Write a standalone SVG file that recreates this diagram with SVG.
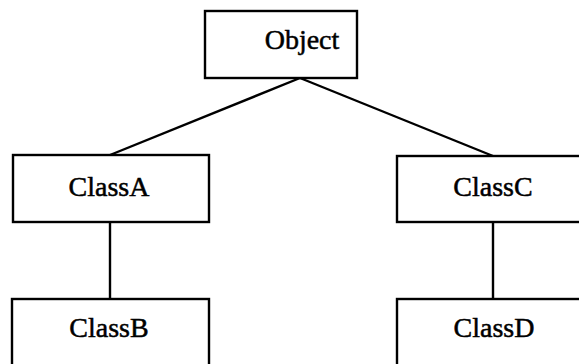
<svg xmlns="http://www.w3.org/2000/svg" width="579" height="364" viewBox="0 0 579 364">
<style>
.box{fill:#fff;stroke:#000;stroke-width:2.4}
.lbl{font-family:"Liberation Serif","Times New Roman",serif;font-size:28px;fill:#000;stroke:#000;stroke-width:0.5;text-anchor:middle}
.conn{stroke:#000;stroke-width:2.4;fill:none}
</style>
<rect width="579" height="364" fill="#fff"/>
<g id="connectors">
<line class="conn" x1="300" y1="78" x2="110" y2="155"/>
<line class="conn" x1="300" y1="78" x2="493" y2="156"/>
<line class="conn" x1="110" y1="222" x2="110" y2="299"/>
<line class="conn" x1="493" y1="222" x2="493" y2="299"/>
</g>
<g id="object"><rect class="box" x="205" y="11" width="152" height="67"/><text class="lbl" x="302" y="49">Object</text></g>
<g id="classA"><rect class="box" x="13" y="155" width="196" height="67"/><text class="lbl" x="109" y="196">ClassA</text></g>
<g id="classC"><rect class="box" x="397" y="156" width="200" height="66"/><text class="lbl" x="493" y="196">ClassC</text></g>
<g id="classB"><rect class="box" x="12" y="299" width="197" height="80"/><text class="lbl" x="109" y="337">ClassB</text></g>
<g id="classD"><rect class="box" x="397" y="299" width="200" height="80"/><text class="lbl" x="494" y="337">ClassD</text></g>
</svg>
